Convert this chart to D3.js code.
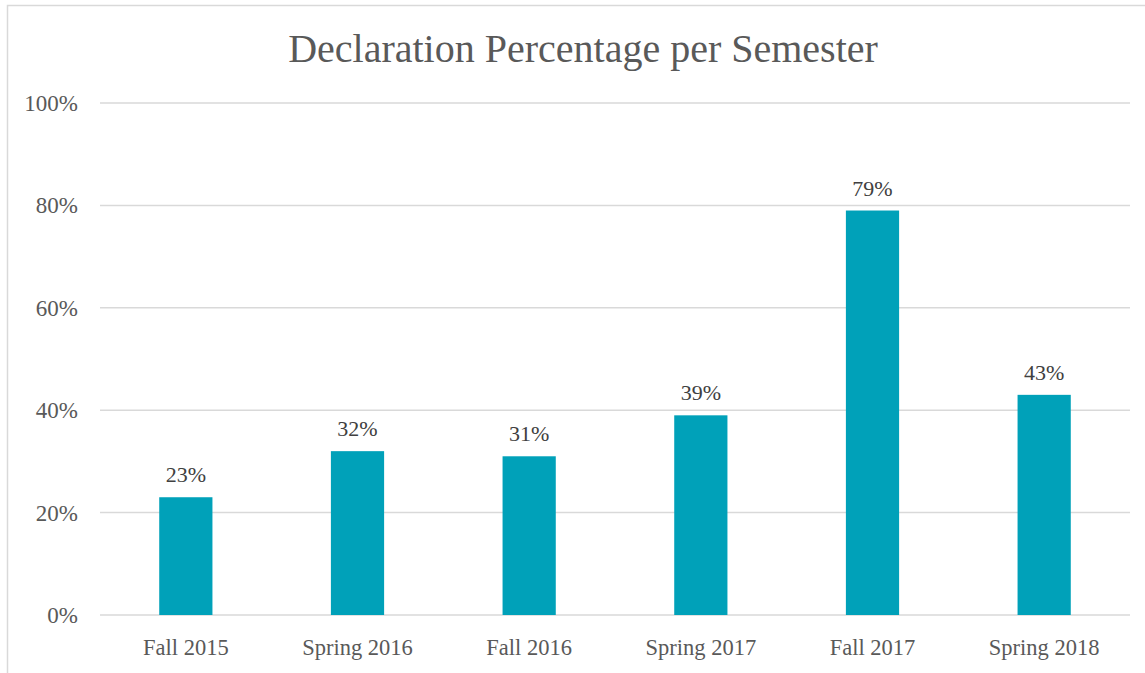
<!DOCTYPE html>
<html>
<head>
<meta charset="utf-8">
<script src="https://cdn.jsdelivr.net/npm/d3@7"></script>
<style>
  body { margin: 0; background: #fff; }
  text { font-family: "Liberation Serif", "DejaVu Serif", serif; font-variant-numeric: oldstyle-nums; }
</style>
</head>
<body>
<script>
const categories = ["Fall 2015", "Spring 2016", "Fall 2016", "Spring 2017", "Fall 2017", "Spring 2018"]
const values = [23, 32, 31, 39, 79, 43]
const yTicks = [0, 20, 40, 60, 80, 100]

const width = 1145
const height = 673
const margin = {top: 103, right: 15, bottom: 58, left: 100}

const svg = d3.select('body').append('svg')
    .attr('width', width)
    .attr('height', height)

// chart frame
svg.append('path')
    .attr('d', `M7.5,${height} V5.5 H${width}`)
    .attr('fill', 'none')
    .attr('stroke', '#d9d9d9')
    .attr('stroke-width', 1.5)

const x = d3.scaleBand()
    .domain(categories)
    .range([margin.left, width - margin.right])
    .paddingInner(0.69)
    .paddingOuter(0.345)

const y = d3.scaleLinear()
    .domain([0, 100])
    .range([height - margin.bottom, margin.top])

// grid
svg.append('g')
    .selectAll('line')
    .data(yTicks)
    .enter()
    .append('line')
    .attr('x1', margin.left)
    .attr('x2', width - margin.right)
    .attr('y1', d => y(d))
    .attr('y2', d => y(d))
    .attr('stroke', '#d9d9d9')
    .attr('stroke-width', 1.5)

// y labels
svg.append('g')
    .selectAll('text')
    .data(yTicks)
    .enter()
    .append('text')
    .attr('x', 78)
    .attr('y', d => y(d))
    .attr('dy', '0.35em')
    .attr('text-anchor', 'end')
    .attr('fill', '#595959')
    .attr('font-size', 23)
    .text(d => d + '%')

// bars
svg.append('g')
    .selectAll('rect')
    .data(values)
    .enter()
    .append('rect')
    .attr('x', (d, i) => x(categories[i]))
    .attr('width', x.bandwidth())
    .attr('y', d => y(d))
    .attr('height', d => y(0) - y(d))
    .attr('fill', '#00a1b9')

// value labels
svg.append('g')
    .selectAll('text')
    .data(values)
    .enter()
    .append('text')
    .attr('x', (d, i) => x(categories[i]) + x.bandwidth() / 2)
    .attr('y', d => y(d) - 15)
    .attr('text-anchor', 'middle')
    .attr('fill', '#404040')
    .attr('font-size', 22)
    .text(d => d + '%')

// x labels
svg.append('g')
    .selectAll('text')
    .data(categories)
    .enter()
    .append('text')
    .attr('x', d => x(d) + x.bandwidth() / 2)
    .attr('y', 655)
    .attr('text-anchor', 'middle')
    .attr('fill', '#595959')
    .attr('font-size', 22.5)
    .text(d => d)

// title
svg.append('text')
    .attr('x', 583)
    .attr('y', 62)
    .attr('text-anchor', 'middle')
    .attr('fill', '#595959')
    .attr('font-size', 40)
    .text('Declaration Percentage per Semester')
</script>
</body>
</html>
